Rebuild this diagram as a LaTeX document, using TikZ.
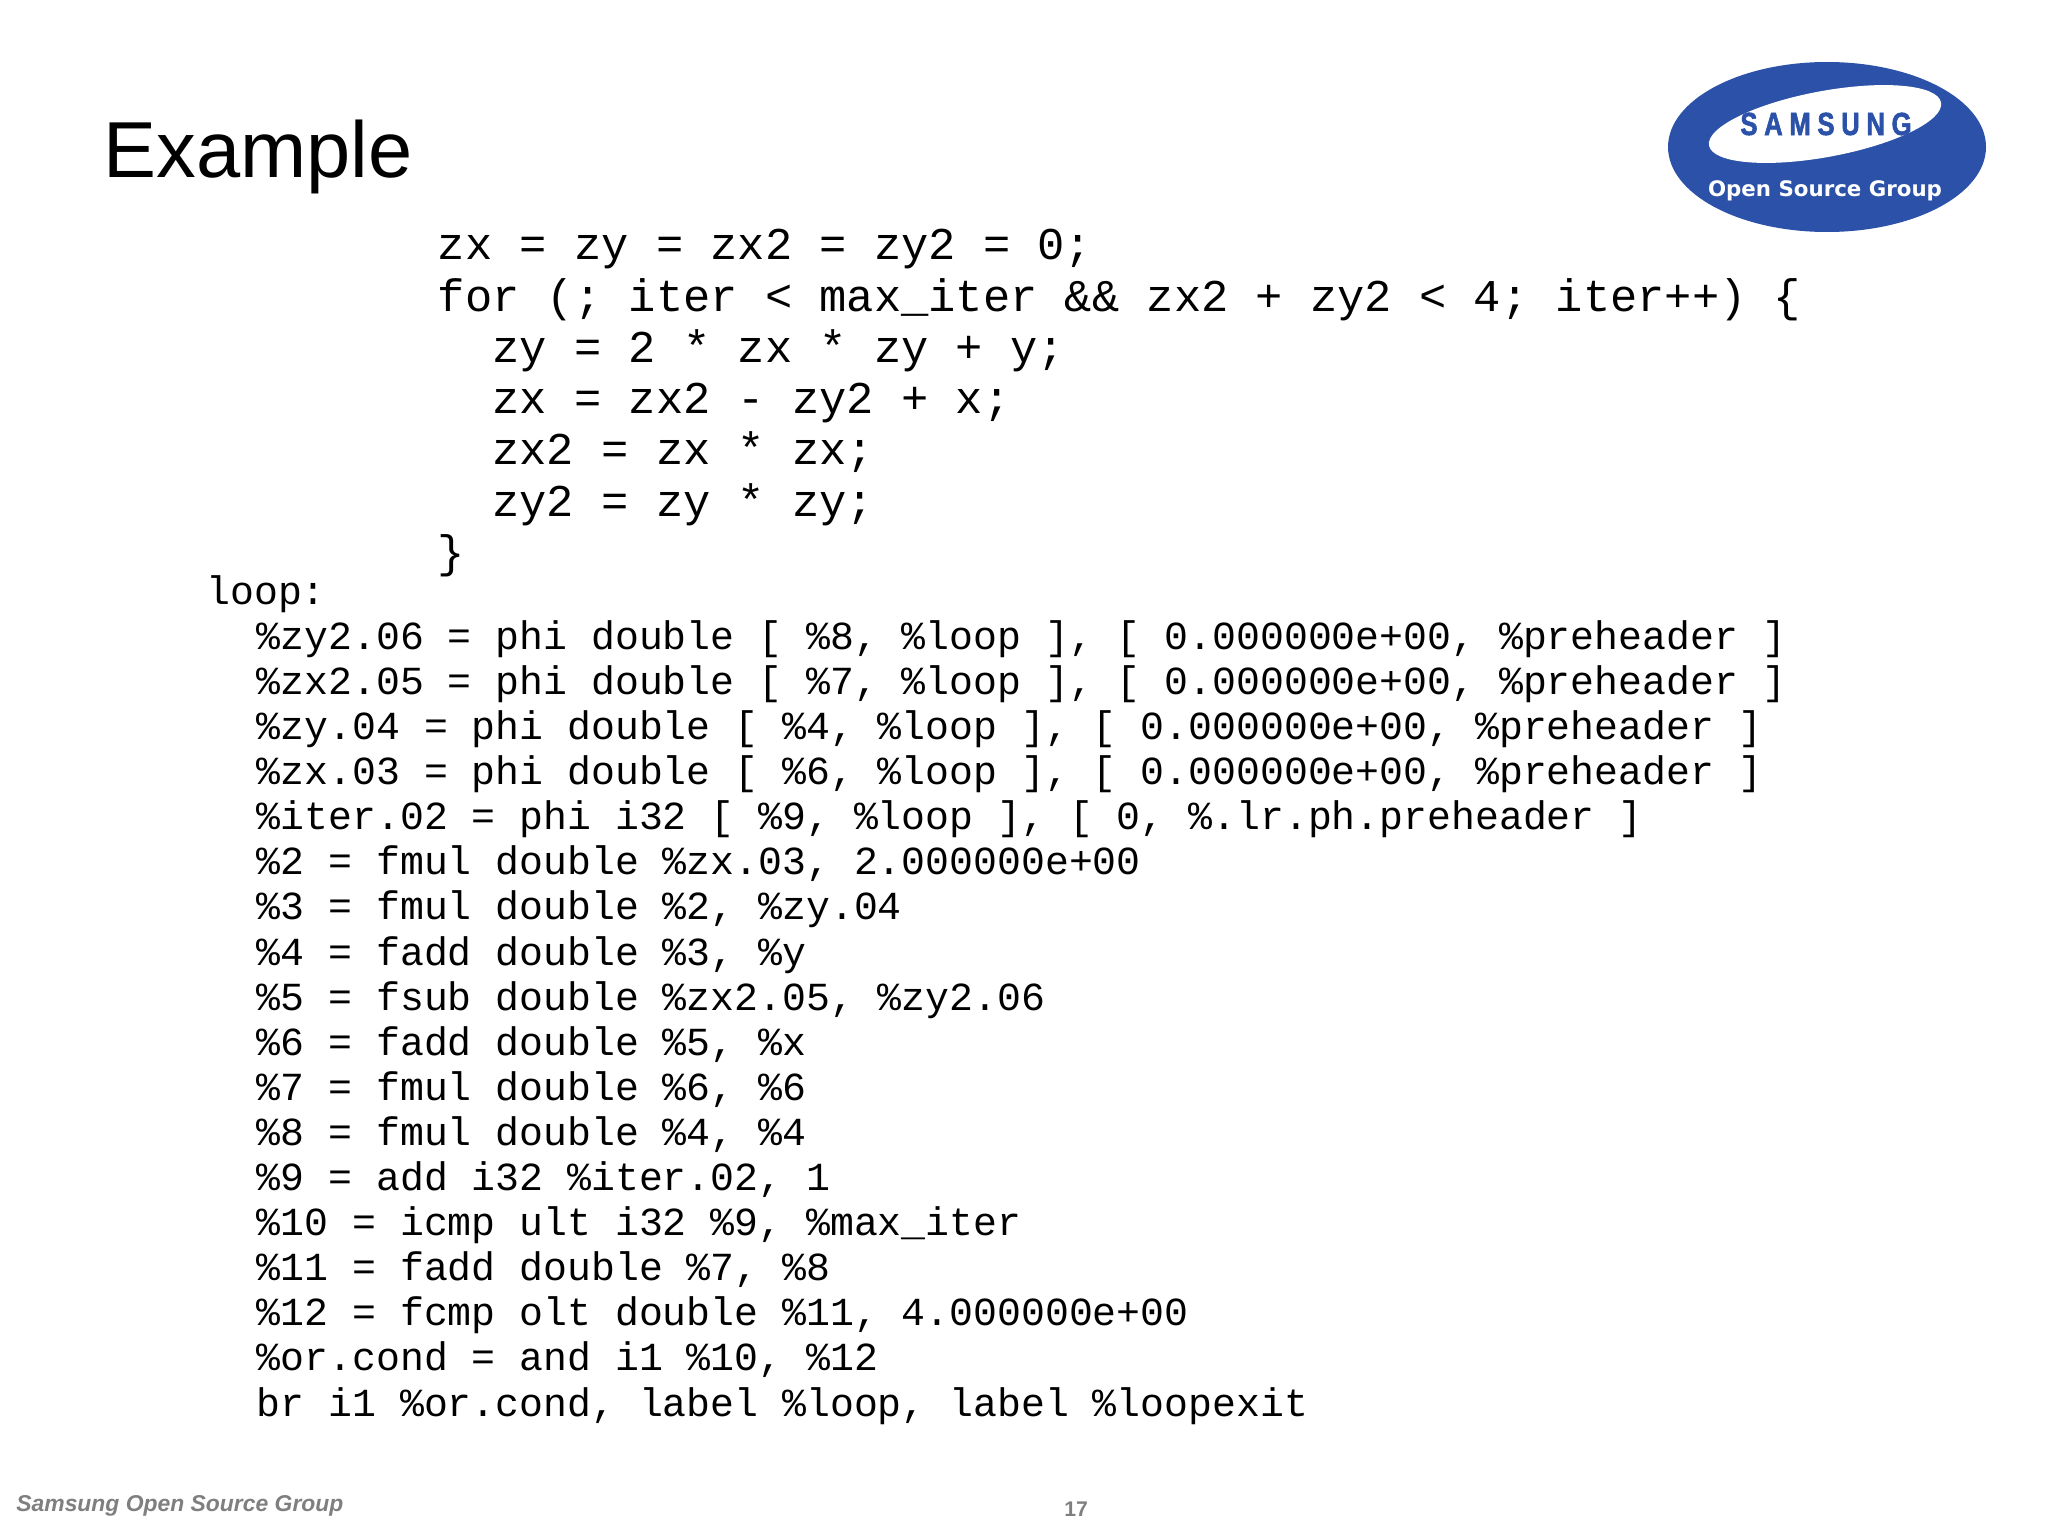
\documentclass[tikz,border=0pt]{standalone}
\usepackage{fontspec}
\setmainfont{Liberation Sans}
\newfontfamily\codefont{Liberation Mono}
\newfontfamily\logofont{DejaVu Sans}
\newfontfamily\brandfont[LetterSpace=21,FakeStretch=0.8,FakeBold=1.8]{Liberation Sans Bold}
\newcommand{\ind}{\hspace*{1.2em}}
\newcommand{\irind}{\hspace*{1.265em}}
\definecolor{logoblue}{HTML}{2B52A8}
\definecolor{footgray}{HTML}{7F7F7F}
\tikzset{
  code/.style={anchor=north west,inner sep=0pt,align=left},
  foot/.style={anchor=base west,inner sep=0pt,text=footgray}
}
\begin{document}
\begin{tikzpicture}[x=0.5pt,y=-0.5pt]
  \useasboundingbox (0,0) rectangle (2048,1536);
  \node[anchor=base west,inner sep=0pt,font=\fontsize{39.7}{39.7}\selectfont] (title) at (103,177) {Example};
  \node[code,font=\codefont\fontsize{22.72}{25.63}\selectfont] (source) at (437.5,229) {%
    zx = zy = zx2 = zy2 = 0;\\
    for (; iter < max\_iter \&\& zx2 + zy2 < 4; iter++) \{\\
    \ind zy = 2 * zx * zy + y;\\
    \ind zx = zx2 - zy2 + x;\\
    \ind zx2 = zx * zx;\\
    \ind zy2 = zy * zy;\\
    \}};
  \node[code,font=\codefont\fontsize{19.91}{22.55}\selectfont] (loopir) at (206,575) {%
    loop:\\
    \irind\%zy2.06 = phi double [ \%8, \%loop ], [ 0.000000e+00, \%preheader ]\\
    \irind\%zx2.05 = phi double [ \%7, \%loop ], [ 0.000000e+00, \%preheader ]\\
    \irind\%zy.04 = phi double [ \%4, \%loop ], [ 0.000000e+00, \%preheader ]\\
    \irind\%zx.03 = phi double [ \%6, \%loop ], [ 0.000000e+00, \%preheader ]\\
    \irind\%iter.02 = phi i32 [ \%9, \%loop ], [ 0, \%.lr.ph.preheader ]\\
    \irind\%2 = fmul double \%zx.03, 2.000000e+00\\
    \irind\%3 = fmul double \%2, \%zy.04\\
    \irind\%4 = fadd double \%3, \%y\\
    \irind\%5 = fsub double \%zx2.05, \%zy2.06\\
    \irind\%6 = fadd double \%5, \%x\\
    \irind\%7 = fmul double \%6, \%6\\
    \irind\%8 = fmul double \%4, \%4\\
    \irind\%9 = add i32 \%iter.02, 1\\
    \irind\%10 = icmp ult i32 \%9, \%max\_iter\\
    \irind\%11 = fadd double \%7, \%8\\
    \irind\%12 = fcmp olt double \%11, 4.000000e+00\\
    \irind\%or.cond = and i1 \%10, \%12\\
    \irind br i1 \%or.cond, label \%loop, label \%loopexit};
  \fill[logoblue] (1827,147) ellipse [x radius=79.5pt,y radius=42.5pt];
  \fill[white,rotate around={10.5:(1825,124)}] (1825,124) ellipse [x radius=59pt,y radius=16.5pt];
  \node[inner sep=0pt,text=logoblue,font=\brandfont\fontsize{16}{16}\selectfont] (brand) at (1826,124) {SAMSUNG};
  \node[inner sep=0pt,text=white,font=\logofont\bfseries\fontsize{10.67}{12}\selectfont] (group) at (1825,191) {Open Source Group};
  \node[foot,font=\bfseries\itshape\fontsize{11.45}{12}\selectfont] (footer) at (16,1511) {Samsung Open Source Group};
  \node[foot,font=\bfseries\fontsize{10.6}{12}\selectfont] (pageno) at (1064,1516) {17};
\end{tikzpicture}
\end{document}
